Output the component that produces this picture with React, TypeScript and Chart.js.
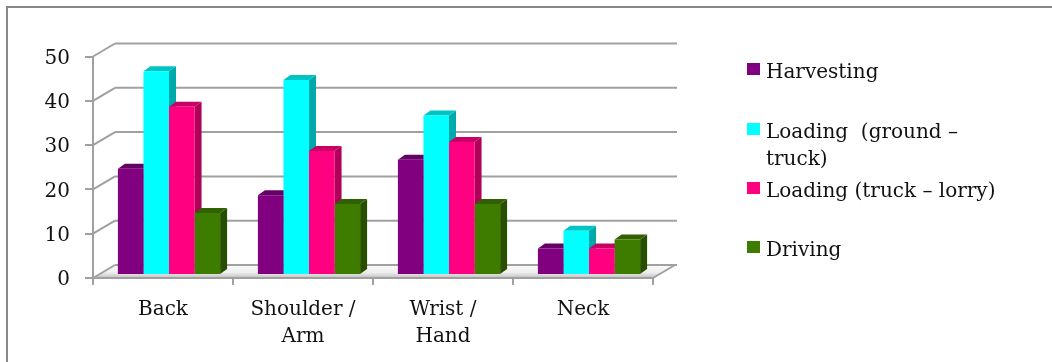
import { useEffect, useRef } from "react";
import { Chart, registerables } from "chart.js";

Chart.register(...registerables);

// ---- data ----
const categories: (string | string[])[] = ["Back", ["Shoulder /", "Arm"], ["Wrist /", "Hand"], "Neck"];
const seriesNames = ["Harvesting", "Loading  (ground – truck)", "Loading (truck – lorry)", "Driving"];
const harvesting = [24, 18, 26, 6];
const loadingGround = [46, 44, 36, 10];
const loadingTruck = [38, 28, 30, 6];
const driving = [14, 16, 16, 8];
const yMin = 0;
const yMax = 50;
const yStep = 10;
const legendLines = [["Harvesting"], ["Loading  (ground –", "truck)"], ["Loading (truck – lorry)"], ["Driving"]];

// ---- styles ----
const frontColors = ["#800080", "#00FFFF", "#FF0080", "#3E7C00"];
const sideColors = ["#560056", "#00A9A9", "#B0005A", "#284F00"];
const topColors = ["#650065", "#00C4C4", "#C80066", "#306000"];
const gridColor = "#A0A0A0";
const textColor = "#111111";
const fontFamily = '"DejaVu Serif", serif';

const W = 1052;
const H = 362;
const FRONT_LEFT = 93;
const FRONT_RIGHT = 653;
const FRONT_TOP = 56.5;
const FRONT_BOTTOM = 278;
const BACK_DX = 22;
const BACK_DY = -13;
const BAR_DX = 6;
const BAR_DY = -3;
const DEPTH_DX = 7;
const DEPTH_DY = -5;

const threeDPlugin = {
  id: "threeD",
  beforeDraw(chart: any) {
    const ctx = chart.ctx;
    const yScale = chart.scales.y;
    const { left: L, right: R, bottom: B } = chart.chartArea;
    ctx.save();
    // outer frame
    ctx.fillStyle = "#888888";
    ctx.fillRect(6, 6, W - 6, 2);
    ctx.fillRect(6, 6, 2, H - 6);

    // floor
    ctx.beginPath();
    ctx.moveTo(L, B);
    ctx.lineTo(R, B);
    ctx.lineTo(R + BACK_DX, B + BACK_DY);
    ctx.lineTo(L + BACK_DX, B + BACK_DY);
    ctx.closePath();
    const g = ctx.createLinearGradient(0, B + BACK_DY, 0, B);
    g.addColorStop(0, "#FBFBFB");
    g.addColorStop(0.55, "#EFEFEF");
    g.addColorStop(0.8, "#D6D6D6");
    g.addColorStop(1, "#BDBDBD");
    ctx.fillStyle = g;
    ctx.fill();

    ctx.strokeStyle = gridColor;
    ctx.lineWidth = 2;
    // back wall gridlines + left wall diagonals
    yScale.ticks.forEach((t: any) => {
      const py = yScale.getPixelForValue(t.value);
      ctx.beginPath();
      ctx.moveTo(L + BACK_DX, py + BACK_DY);
      ctx.lineTo(R + BACK_DX + 2, py + BACK_DY);
      ctx.stroke();
      ctx.beginPath();
      ctx.moveTo(L, py);
      ctx.lineTo(L + BACK_DX, py + BACK_DY);
      ctx.stroke();
    });
    // floor right edge
    ctx.beginPath();
    ctx.moveTo(R, B);
    ctx.lineTo(R + BACK_DX, B + BACK_DY);
    ctx.stroke();
    ctx.restore();
  },
  beforeDatasetsDraw(chart: any) {
    const ctx = chart.ctx;
    ctx.save();
    ctx.translate(BAR_DX, BAR_DY);
    const metas = chart.data.datasets.map((_: any, i: number) => chart.getDatasetMeta(i));
    // side faces
    metas.forEach((meta: any, di: number) => {
      meta.data.forEach((el: any) => {
        const { x, y, base, width } = el.getProps(["x", "y", "base", "width"], true);
        const r = x + width / 2;
        ctx.beginPath();
        ctx.moveTo(r, y);
        ctx.lineTo(r + DEPTH_DX, y + DEPTH_DY);
        ctx.lineTo(r + DEPTH_DX, base + DEPTH_DY);
        ctx.lineTo(r, base);
        ctx.closePath();
        ctx.fillStyle = sideColors[di];
        ctx.fill();
      });
    });
    // top faces
    metas.forEach((meta: any, di: number) => {
      meta.data.forEach((el: any) => {
        const { x, y, width } = el.getProps(["x", "y", "base", "width"], true);
        const l = x - width / 2;
        const r = x + width / 2;
        ctx.beginPath();
        ctx.moveTo(l, y);
        ctx.lineTo(r, y);
        ctx.lineTo(r + DEPTH_DX, y + DEPTH_DY);
        ctx.lineTo(l + DEPTH_DX, y + DEPTH_DY);
        ctx.closePath();
        ctx.fillStyle = topColors[di];
        ctx.fill();
      });
    });
  },
  afterDatasetsDraw(chart: any) {
    chart.ctx.restore();
  },
  afterDraw(chart: any) {
    const ctx = chart.ctx;
    ctx.save();
    const startBaselines = [78, 138, 197, 256];
    const lineGap = 27;
    ctx.font = `20px ${fontFamily}`;
    ctx.textBaseline = "alphabetic";
    ctx.textAlign = "left";
    chart.data.datasets.forEach((ds: any, i: number) => {
      const b0 = startBaselines[i];
      ctx.fillStyle = ds.backgroundColor;
      ctx.fillRect(747, b0 - 15, 13, 12);
      ctx.fillStyle = textColor;
      legendLines[i].forEach((line, li) => {
        ctx.fillText(line, 766, b0 + li * lineGap);
      });
    });
    ctx.restore();
  },
};

export default function App() {
  const ref = useRef<HTMLCanvasElement | null>(null);

  useEffect(() => {
    if (!ref.current) return;
    const seriesData = [harvesting, loadingGround, loadingTruck, driving];
    const chart = new Chart(ref.current, {
      type: "bar",
      data: {
        labels: categories as any,
        datasets: seriesNames.map((name, i) => ({
          label: name,
          data: seriesData[i],
          backgroundColor: frontColors[i],
          borderWidth: 0,
          categoryPercentage: 0.73,
          barPercentage: 1,
        })),
      },
      options: {
        animation: false,
        responsive: false,
        devicePixelRatio: 1,
        layout: {
          padding: { left: 0, top: FRONT_TOP, right: W - FRONT_RIGHT, bottom: 0 },
        },
        plugins: {
          legend: { display: false },
          tooltip: { enabled: false },
        },
        scales: {
          x: {
            offset: true,
            grid: {
              offset: true,
              drawOnChartArea: false,
              drawTicks: true,
              tickLength: 7,
              color: gridColor,
              lineWidth: 2,
            },
            border: { display: true, color: gridColor, width: 2 },
            ticks: {
              color: textColor,
              padding: 11,
              maxRotation: 0,
              autoSkip: false,
              font: { family: fontFamily, size: 20, lineHeight: 1.375 },
            },
            afterFit: (s: any) => {
              s.height = H - FRONT_BOTTOM;
            },
          },
          y: {
            min: yMin,
            max: yMax,
            grid: {
              drawOnChartArea: false,
              drawTicks: true,
              tickLength: 8,
              color: gridColor,
              lineWidth: 2,
            },
            border: { display: true, color: gridColor, width: 2 },
            ticks: {
              stepSize: yStep,
              color: textColor,
              padding: 15,
              labelOffset: 2,
              font: { family: fontFamily, size: 20 },
            },
            afterFit: (s: any) => {
              s.width = FRONT_LEFT;
            },
          },
        },
      },
      plugins: [threeDPlugin],
    });
    return () => chart.destroy();
  }, []);

  return (
    <div style={{ position: "fixed", left: 0, top: 0, width: W, height: H, background: "#fff" }}>
      <canvas ref={ref} width={W} height={H} style={{ width: W, height: H, display: "block" }} />
    </div>
  );
}
